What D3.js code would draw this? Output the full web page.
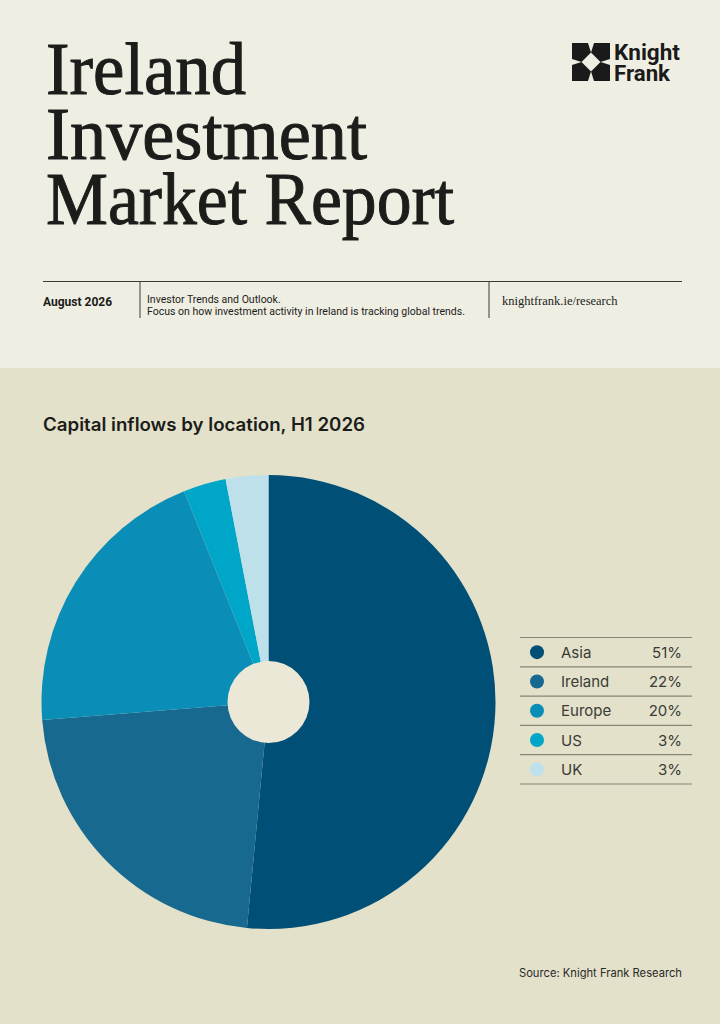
<!DOCTYPE html>
<html>
<head>
<meta charset="utf-8">
<script src="https://cdn.jsdelivr.net/npm/d3@7"></script>
<style>
  html, body { margin: 0; padding: 0; background: #e3e1ca; }
  svg { display: block; }
</style>
</head>
<body>
<div id="chart"></div>
<script>
// Capital inflows by location, H1 2026
var locations = ["Asia", "Ireland", "Europe", "US", "UK"];
var shares = [51, 22, 20, 3, 3];
var sliceColors = ["#004f76", "#18698f", "#0a8db6", "#00a6c7", "#bde0eb"];

var svgWidth = 720;
var svgHeight = 1024;

var svg = d3.select("#chart")
  .append("svg")
  .attr("width", svgWidth)
  .attr("height", svgHeight);

// backgrounds
svg.append("rect").attr("width", svgWidth).attr("height", 368).attr("fill", "#efeee3");
svg.append("rect").attr("y", 368).attr("width", svgWidth).attr("height", svgHeight - 368).attr("fill", "#e3e1ca");

// Header title (one text block, tight leading like the print)
var titleLines = [
  { text: "Ireland", len: 200 },
  { text: "Investment", len: 321 },
  { text: "Market Report", len: 408 }
];
svg.append("text")
  .attr("font-family", "'Liberation Serif', 'DejaVu Serif', serif")
  .attr("font-size", 74)
  .attr("fill", "#1c1c1a")
  .attr("stroke", "#1c1c1a")
  .attr("stroke-width", 1)
  .selectAll("tspan")
  .data(titleLines)
  .join("tspan")
  .attr("x", 46)
  .attr("y", (d, i) => 94 + i * 65)
  .attr("textLength", d => d.len)
  .attr("lengthAdjust", "spacingAndGlyphs")
  .text(d => d.text);

// Logo
var logo = svg.append("g").attr("transform", "translate(572, 43) scale(38)");
var piece = [[0, 0], [0.42, 0], [0.5, 0.25], [0.25, 0.5], [0, 0.42]];
[0, 90, 180, 270].forEach(rot => {
  logo.append("path")
    .attr("d", "M" + piece.map(p => p.join(",")).join("L") + "Z")
    .attr("transform", `rotate(${rot}, 0.5, 0.5)`)
    .attr("fill", "#1a1a1a");
});
var logoText = svg.append("text")
  .attr("font-family", "Roboto, sans-serif").attr("font-weight", 700)
  .attr("font-size", 21.5).attr("fill", "#1a1a1a");
logoText.append("tspan").attr("x", 614).attr("y", 60)
  .attr("textLength", 66).attr("lengthAdjust", "spacingAndGlyphs").text("Knight");
logoText.append("tspan").attr("x", 614).attr("y", 81)
  .attr("textLength", 56).attr("lengthAdjust", "spacingAndGlyphs").text("Frank");

// Header info row
svg.append("line").attr("x1", 43).attr("x2", 682).attr("y1", 281.5).attr("y2", 281.5)
  .attr("stroke", "#3a3a36").attr("stroke-width", 1);
[140, 489].forEach(x => {
  svg.append("line").attr("x1", x).attr("x2", x).attr("y1", 281).attr("y2", 318)
    .attr("stroke", "#3a3a36").attr("stroke-width", 1);
});
svg.append("text").attr("x", 43).attr("y", 306)
  .attr("font-family", "Roboto, sans-serif").attr("font-weight", 700)
  .attr("font-size", 12).attr("fill", "#1c1c1a").text("August 2026");
var infoText = svg.append("text")
  .attr("font-family", "Roboto, sans-serif").attr("font-size", 10.5)
  .attr("fill", "#1c1c1a");
infoText.append("tspan").attr("x", 147).attr("y", 303).text("Investor Trends and Outlook.");
infoText.append("tspan").attr("x", 147).attr("y", 315)
  .attr("textLength", 318).attr("lengthAdjust", "spacingAndGlyphs")
  .text("Focus on how investment activity in Ireland is tracking global trends.");
svg.append("text").attr("x", 502).attr("y", 305)
  .attr("font-family", "'Liberation Serif', serif").attr("font-size", 12.5)
  .attr("fill", "#1c1c1a").text("knightfrank.ie/research");

// Chart title
svg.append("text").attr("x", 43).attr("y", 431)
  .attr("font-family", "Inter, Roboto, sans-serif").attr("font-weight", 600)
  .attr("font-size", 18).attr("fill", "#1c1c1a")
  .attr("textLength", 322).attr("lengthAdjust", "spacingAndGlyphs")
  .text("Capital inflows by location, H1 2026");

// Pie
var cx = 268.5, cy = 702, radius = 227, holeRadius = 41;
var pie = d3.pie().sort(null).value(d => d.value);
var pieData = pie(locations.map((name, i) => ({ name: name, value: shares[i] })));
var colorScale = d3.scaleOrdinal().domain(locations).range(sliceColors);
var arc = d3.arc().innerRadius(0).outerRadius(radius);

var pieGroup = svg.append("g").attr("transform", `translate(${cx}, ${cy})`);
pieGroup.selectAll("path")
  .data(pieData)
  .join("path")
  .attr("d", arc)
  .attr("fill", d => colorScale(d.data.name));
pieGroup.append("circle").attr("r", holeRadius).attr("fill", "#ebe8d7");

// Legend
var rowH = 29.3;
var legendTop = 637.5;
var legend = svg.append("g");
legend.selectAll("line")
  .data(d3.range(locations.length + 1))
  .join("line")
  .attr("x1", 520).attr("x2", 692)
  .attr("y1", i => legendTop + i * rowH).attr("y2", i => legendTop + i * rowH)
  .attr("stroke", "#86867a").attr("stroke-width", 1.2);

var rows = legend.selectAll("g.row")
  .data(locations)
  .join("g")
  .attr("class", "row")
  .attr("transform", (d, i) => `translate(0, ${legendTop + i * rowH + rowH / 2})`);
rows.append("circle").attr("cx", 537).attr("r", 7).attr("fill", d => colorScale(d));
rows.append("text").attr("x", 561).attr("y", 5.5)
  .attr("font-family", "Inter, Roboto, sans-serif").attr("font-size", 15)
  .attr("fill", "#3b3b38").text(d => d);
rows.append("text").attr("x", 682).attr("y", 5.5).attr("text-anchor", "end")
  .attr("font-family", "Inter, Roboto, sans-serif").attr("font-size", 15)
  .attr("fill", "#3b3b38").text((d, i) => shares[i] + "%");

// Source
svg.append("text").attr("x", 682).attr("y", 977).attr("text-anchor", "end")
  .attr("font-family", "Inter, Roboto, sans-serif").attr("font-size", 11.2)
  .attr("fill", "#2a2a28").text("Source: Knight Frank Research");
</script>
</body>
</html>
